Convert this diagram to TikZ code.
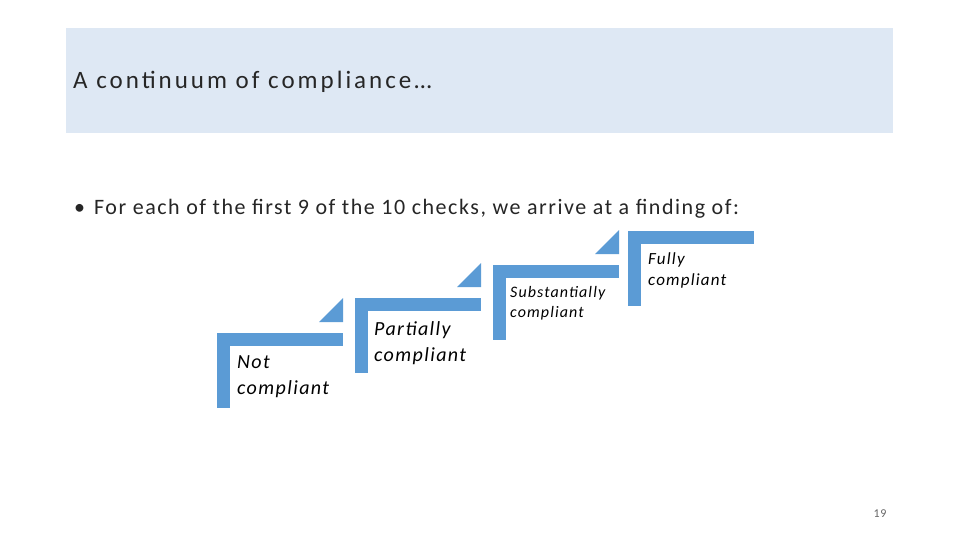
\documentclass[tikz,border=0pt]{standalone}
\usepackage{fontspec}
\setmainfont{Carlito}[LetterSpace=7]
\newfontfamily\titlefont{Carlito}[LetterSpace=12]
\definecolor{bar}{HTML}{5B9BD5}
\definecolor{hdr}{HTML}{DEE8F4}
\begin{document}
\begin{tikzpicture}[x=1pt,y=-1pt,
  lbl/.style={anchor=north west,align=left,inner sep=0pt,font=\itshape,text=black}]
\useasboundingbox (0,0) rectangle (960,540);
\fill[white] (0,0) rectangle (960,540);
\fill[hdr] (66,28) rectangle (893,133);
\node[anchor=west,inner sep=0pt,font=\titlefont\fontsize{25}{30}\selectfont,text=black!85] (title) at (73,82) {A continuum of compliance…};
\node[anchor=west,inner sep=0pt,font=\fontsize{22}{26}\selectfont,text=black!85] (bul) at (74,209) {•\hspace{9pt}For each of the first 9 of the 10 checks, we arrive at a finding of:};
% steps
\foreach \x/\y/\tri in {217/333/1,355/298/1,493/265/1,628/231/0}{
  \fill[bar] (\x,\y) rectangle (\x+126,\y+13);
  \fill[bar] (\x,\y) rectangle (\x+13,\y+75);
  \ifnum\tri=1
    \fill[bar] (\x+102,\y-11) -- (\x+126,\y-35) -- (\x+126,\y-11) -- cycle;
  \fi
}
\node[lbl,font=\itshape\fontsize{20}{26}\selectfont] (nc) at (237,355) {Not\\compliant};
\node[lbl,font=\itshape\fontsize{20}{26}\selectfont] (pc) at (374,321) {Partially\\compliant};
\node[lbl,font=\itshape\fontsize{16}{20}\selectfont] (sc) at (510,286) {Substantially\\compliant};
\node[lbl,font=\itshape\fontsize{17}{21}\selectfont] (fc) at (648,252) {Fully\\compliant};
\node[inner sep=0pt,font=\fontsize{12}{14}\selectfont,text=black!60] (pg) at (880,514) {19};
\end{tikzpicture}
\end{document}
